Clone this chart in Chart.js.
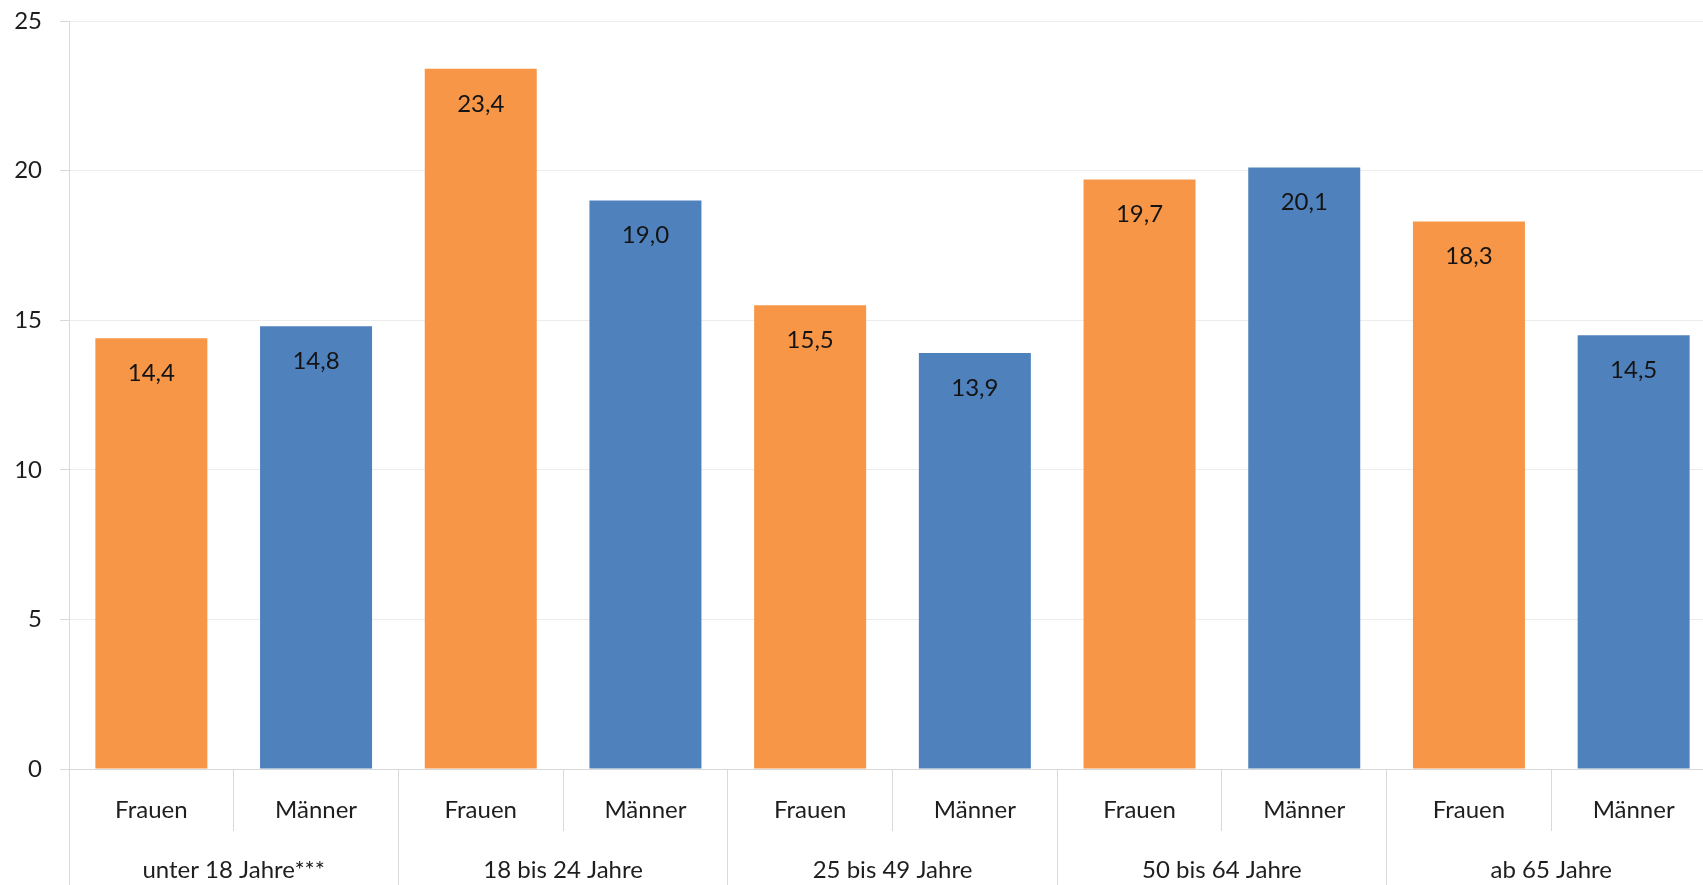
<!DOCTYPE html>
<html>
<head>
<meta charset="utf-8">
<script src="https://cdn.jsdelivr.net/npm/chart.js@4"></script>
<style>
  html, body { margin: 0; padding: 0; background: #fff; overflow: hidden; }
  #wrap { width: 1716px; height: 885px; position: relative; }
</style>
</head>
<body>
<div id="wrap"><canvas id="grafico"></canvas></div>
<script>
const gruppen = ['unter 18 Jahre***', '18 bis 24 Jahre', '25 bis 49 Jahre', '50 bis 64 Jahre', 'ab 65 Jahre'];
const geschlechter = ['Frauen', 'Männer'];
const frauen = [14.4, 23.4, 15.5, 19.7, 18.3];
const maenner = [14.8, 19.0, 13.9, 20.1, 14.5];
const yTicks = [0, 5, 10, 15, 20, 25];

// Frauen/Männer abwechselnd pro Altersgruppe
const labels = [];
const werte = [];
gruppen.forEach((g, i) => {
    labels.push(geschlechter[0], geschlechter[1]);
    werte.push(frauen[i], maenner[i]);
});

Chart.defaults.font.family = 'Lato, "Open Sans", sans-serif';
Chart.defaults.font.size = 24;
Chart.defaults.color = '#1e1e1e';

const wertLabels = {
    id: 'wertLabels',
    afterDatasetsDraw(chart) {
        const ctx = chart.ctx;
        const meta = chart.getDatasetMeta(0);
        ctx.save();
        ctx.font = '24px Lato, "Open Sans", sans-serif';
        ctx.fillStyle = '#141414';
        ctx.textAlign = 'center';
        ctx.textBaseline = 'middle';
        meta.data.forEach((bar, i) => {
            const txt = werte[i].toFixed(1).replace('.', ',');
            ctx.fillText(txt, bar.x, bar.y + 35);
        });
        ctx.restore();
    }
};

const ctx = document.getElementById('grafico').getContext('2d');
new Chart(ctx, {
    type: 'bar',
    data: {
        labels: labels,
        datasets: [{
            data: werte,
            backgroundColor: werte.map((v, i) => i % 2 === 0 ? '#f79646' : '#4f81bd'),
            borderWidth: 0,
            barPercentage: 0.68,
            categoryPercentage: 1
        }]
    },
    options: {
        responsive: true,
        maintainAspectRatio: false,
        animation: false,
        layout: { padding: 0 },
        plugins: {
            legend: { display: false },
            tooltip: { enabled: false }
        },
        scales: {
            y: {
                min: 0,
                max: 25,
                afterBuildTicks: (s) => { s.ticks = yTicks.map(v => ({ value: v })); },
                afterFit: (s) => { s.width = 69; s.paddingTop = 21; },
                ticks: { padding: 18 },
                grid: { color: '#ececec', tickLength: 9, tickColor: '#d9d9d9' },
                border: { color: '#d9d9d9' }
            },
            x: {
                afterFit: (s) => { s.height = 61; },
                ticks: { padding: -35, maxRotation: 0, autoSkip: false },
                grid: { offset: true, drawOnChartArea: false, tickLength: 62, color: '#d9d9d9' },
                border: { color: '#d9d9d9' }
            },
            x2: {
                type: 'category',
                labels: gruppen,
                position: 'bottom',
                offset: true,
                afterFit: (s) => { s.height = 55; },
                ticks: { padding: -30, maxRotation: 0, autoSkip: false },
                grid: { offset: true, drawOnChartArea: false, tickLength: 56, color: '#d9d9d9' },
                border: { display: false }
            }
        }
    },
    plugins: [wertLabels]
});
</script>
</body>
</html>
